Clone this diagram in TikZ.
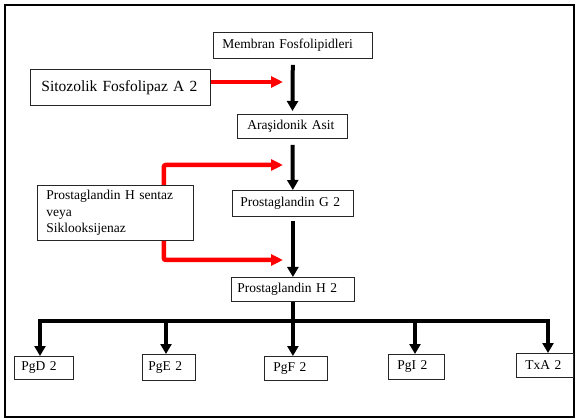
\documentclass[tikz,border=0pt]{standalone}
\usepackage{fontspec}
\setmainfont{Liberation Serif}
\usetikzlibrary{arrows.meta}
\tikzset{
  box/.style={draw=black!85, line width=0.8pt, anchor=north west, align=left,
    font=\fontsize{13.5}{16.5}\selectfont, inner ysep=0pt},
  blk/.style={draw=black, line width=4pt, line join=miter,
    -{Triangle[width=11pt,length=10pt]}},
  redarr/.style={draw={rgb,255:red,255;green,0;blue,0}, line width=4.5pt,
    rounded corners=2pt, -{Triangle[width=11pt,length=12pt]}},
}
\begin{document}
\begin{tikzpicture}[x=1pt,y=-1pt]
\useasboundingbox (0,0) rectangle (575,419);
% outer frame
\draw[line width=2pt] (5,5) rectangle (574,417);
% boxes
\node[box, text width=141pt, inner xsep=9pt, minimum height=26pt] (mem) at (213,32) {Membran Fosfolipidleri};
\node[box, text width=158pt, inner xsep=11pt, minimum height=36pt, font=\fontsize{15.5}{18}\selectfont] (sit) at (30,69) {Sitozolik Fosfolipaz A 2};
\node[box, text width=90pt, inner xsep=10pt, minimum height=24pt] (ara) at (237,114) {Araşidonik Asit};
\node[box, text width=105pt, inner xsep=8pt, minimum height=26pt] (pg2) at (232,190) {Prostaglandin G 2};
\node[box, text width=138pt, inner xsep=9pt, minimum height=55pt] (phs) at (37,185) {Prostaglandin H sentaz\\veya\\Siklooksijenaz};
\node[box, text width=111pt, inner xsep=6pt, minimum height=24pt] (ph2) at (231,277) {Prostaglandin H 2};
\node[box, text width=45pt, inner xsep=7pt, minimum height=23pt] (pgd) at (14,356) {PgD 2};
\node[box, text width=41pt, inner xsep=6pt, minimum height=26pt] (pge) at (142,354) {PgE 2};
\node[box, text width=45pt, inner xsep=9pt, minimum height=24pt] (pgf) at (264,356) {PgF 2};
\node[box, text width=38pt, inner xsep=9pt, minimum height=25pt] (pgi) at (388,354) {PgI 2};
\node[box, text width=39pt, inner xsep=9pt, minimum height=24pt] (txa) at (516,353) {TxA 2};
% helper coordinates
\coordinate (t1) at (283,82);
\coordinate (t2) at (283,165);
\coordinate (t3) at (283,260);
\coordinate (bF) at (292,321);
\coordinate (bD) at (40,321);
\coordinate (bE) at (166,321);
\coordinate (bI) at (415,321);
\coordinate (bT) at (548,321);
% black main arrows
\draw[blk, shorten <=6pt, shorten >=3pt] (mem) -- (ara);
\draw[blk, shorten <=6pt] (ara) -- (pg2);
\draw[blk, shorten <=4pt] (pg2) -- (ph2);
% red arrows
\draw[redarr] (sit.east |- t1) -- (t1);
\draw[redarr] ([xshift=-30pt]phs.north east) |- (t2);
\draw[redarr] ([xshift=-30pt]phs.south east) |- (t3);
% distribution tree
\draw[blk] (ph2.south) -- (ph2.south |- pgf.north);
\draw[blk] (bF) -- (bD) -- (bD |- pgd.north);
\draw[blk] (bF) -- (bT) -- (bT |- txa.north);
\draw[blk] (bE) -- (bE |- pge.north);
\draw[blk] (bI) -- (bI |- pgi.north);
\end{tikzpicture}
\end{document}
